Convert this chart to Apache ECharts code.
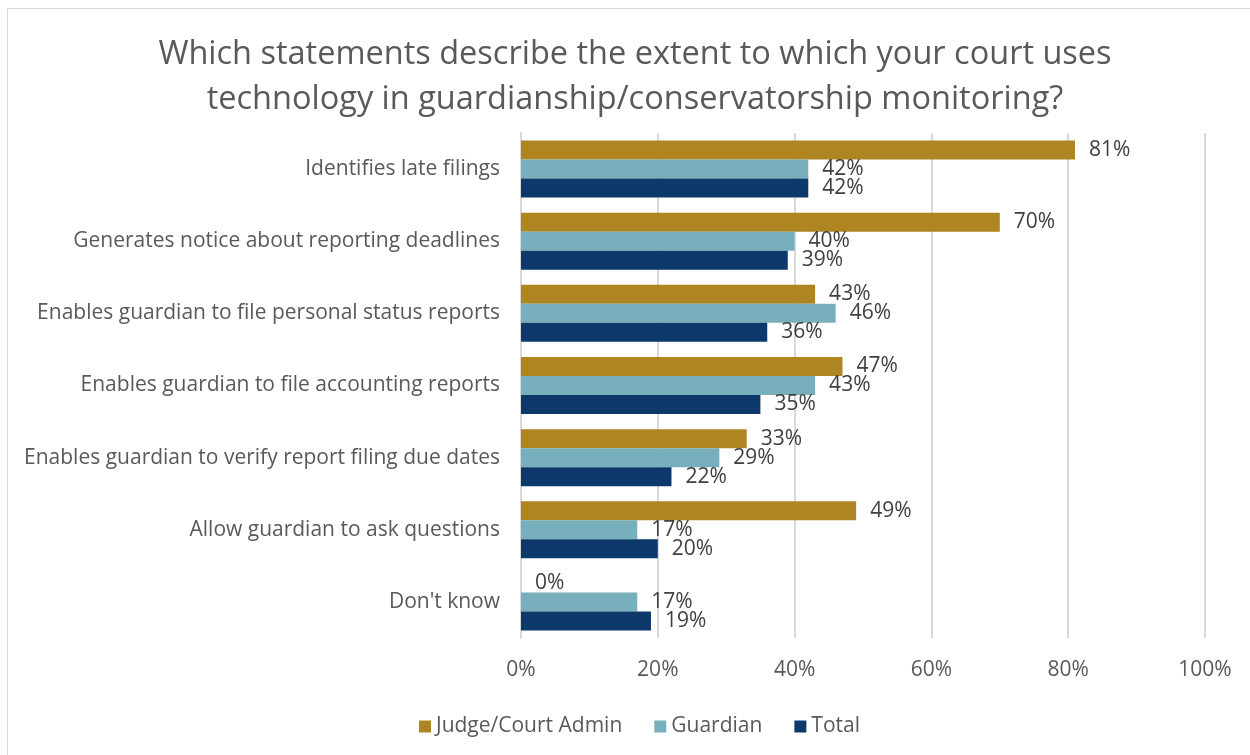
<!DOCTYPE html>
<html>
<head>
<meta charset="utf-8">
<script src="https://cdn.jsdelivr.net/npm/echarts@6/dist/echarts.min.js"></script>
<style>
  html, body { margin: 0; padding: 0; background: #fff; }
  #frame { position: absolute; left: 7px; top: 8px; width: 1250px; height: 760px; border: 1px solid #d9d9d9; box-sizing: border-box; }
  #chart { position: absolute; left: 0; top: 0; width: 1250px; height: 755px; }
</style>
</head>
<body>
<div id="frame"></div>
<div id="chart"></div>
<script>
// Survey responses (percent of respondents)
const categories = [
  'Identifies late filings',
  'Generates notice about reporting deadlines',
  'Enables guardian to file personal status reports',
  'Enables guardian to file accounting reports',
  'Enables guardian to verify report filing due dates',
  'Allow guardian to ask questions',
  "Don't know"
];
const judgeCourtAdmin = [81, 70, 43, 47, 33, 49, 0];
const guardian = [42, 40, 46, 43, 29, 17, 17];
const total = [42, 39, 36, 35, 22, 20, 19];
const xTicks = [0, 20, 40, 60, 80, 100];

const FONT = '"Open Sans", Lato, sans-serif';
const chart = echarts.init(document.getElementById('chart'));

function barSeries(name, data, color) {
  return {
    name: name,
    type: 'bar',
    data: data,
    barWidth: 19,
    barGap: '0%',
    itemStyle: { color: color },
    label: {
      show: true,
      position: 'right',
      distance: 14,
      formatter: p => p.value + '%',
      fontFamily: FONT,
      fontSize: 21,
      color: '#404040'
    }
  };
}

chart.setOption({
  animation: false,
  title: {
    text: 'Which statements describe the extent to which your court uses\ntechnology in guardianship/conservatorship monitoring?',
    left: 630,
    textAlign: 'center',
    top: 27,
    textStyle: { fontFamily: FONT, fontSize: 32.5, fontWeight: 'normal', color: '#595959', lineHeight: 45 }
  },
  legend: {
    bottom: 13,
    left: 414,
    itemWidth: 12,
    itemHeight: 12,
    itemGap: 32,
    icon: 'rect',
    textStyle: { fontFamily: FONT, fontSize: 21, color: '#595959' },
    data: ['Judge/Court Admin', 'Guardian', 'Total']
  },
  grid: { left: 521, right: 45, top: 133, bottom: 117 },
  xAxis: {
    type: 'value',
    min: 0,
    max: 100,
    interval: 20,
    axisLabel: {
      formatter: v => xTicks.includes(v) ? v + '%' : '',
      fontFamily: FONT, fontSize: 21, color: '#595959', margin: 22
    },
    splitLine: { lineStyle: { color: '#d9d9d9', width: 2 } },
    axisLine: { show: false },
    axisTick: { show: false }
  },
  yAxis: {
    type: 'category',
    data: categories,
    inverse: true,
    axisLabel: { fontFamily: FONT, fontSize: 21, color: '#595959', margin: 21 },
    axisLine: { show: true, lineStyle: { color: '#d9d9d9', width: 2 } },
    axisTick: { show: false }
  },
  series: [
    barSeries('Judge/Court Admin', judgeCourtAdmin, '#ae8520'),
    barSeries('Guardian', guardian, '#77afbc'),
    barSeries('Total', total, '#0d386b')
  ]
});
</script>
</body>
</html>
